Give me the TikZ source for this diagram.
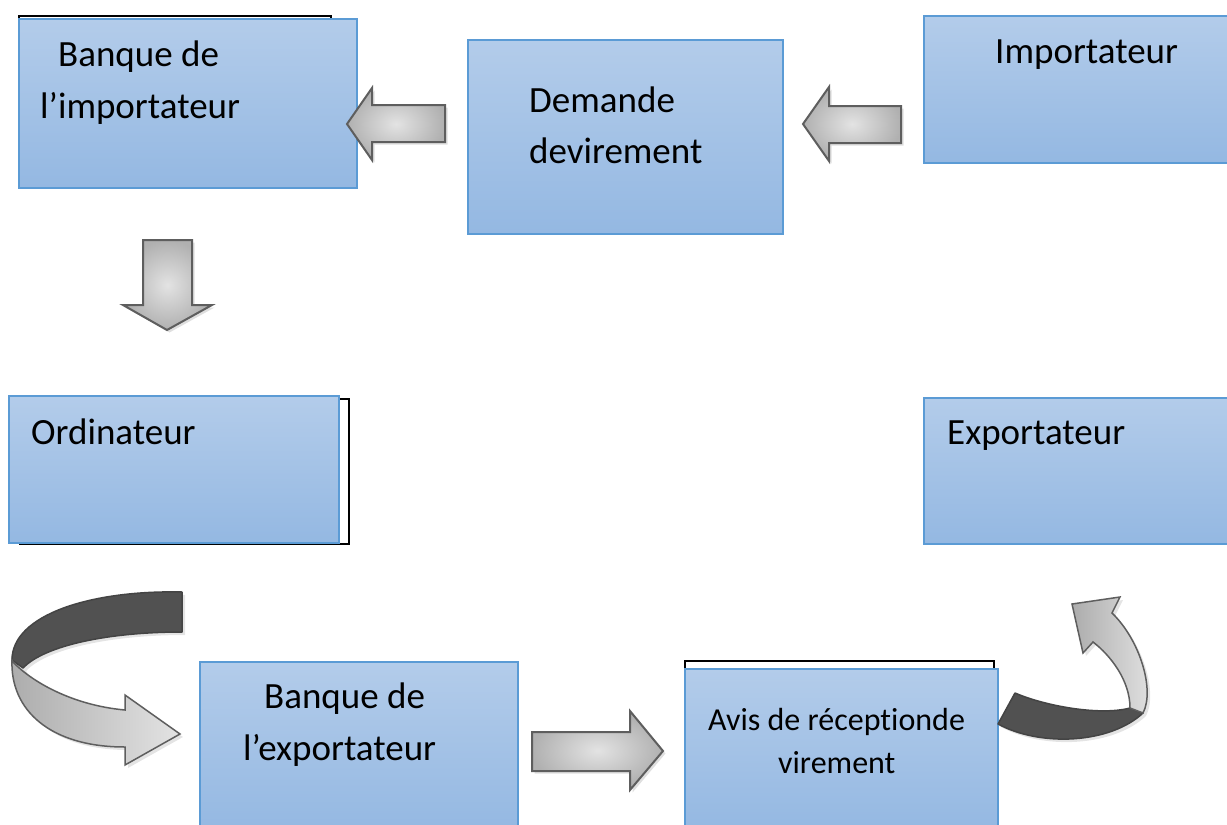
\documentclass[tikz,border=0pt]{standalone}
\usepackage{fontspec}
\setmainfont{Carlito}[Ligatures={NoCommon}]
\usetikzlibrary{shadows}

\definecolor{boxtop}{HTML}{B3CCEA}
\definecolor{boxbot}{HTML}{94B8E2}
\definecolor{boxedge}{HTML}{5B9BD5}
\definecolor{arredge}{HTML}{5E5E5E}
\definecolor{ribdark}{HTML}{515151}
\definecolor{ribedge}{HTML}{444444}

\tikzset{
  box/.style={rectangle, draw=boxedge, line width=1.5pt,
    top color=boxtop, bottom color=boxbot, anchor=north west,
    inner sep=0pt},
  frame/.style={rectangle, draw=black, line width=1.6pt, fill=white,
    anchor=north west, inner sep=0pt},
  big/.style={font=\fontsize{37}{44}\selectfont, anchor=base west, inner sep=0pt},
  small/.style={font=\fontsize{32}{38}\selectfont, anchor=base west, inner sep=0pt},
  blockarrow/.style={draw=arredge, line width=2pt, line join=miter,
    inner color=gray!22, outer color=gray!62,
    drop shadow={shadow xshift=2.5pt, shadow yshift=-2.5pt, fill=gray!35, opacity=0.7}},
  ribbonback/.style={fill=ribdark, draw=ribedge, line width=1.5pt, line join=round},
  ribbonfront/.style={draw=arredge, line width=1.5pt, line join=miter,
    left color=gray!65, right color=gray!22},
  ribshadow/.style={fill=gray!30, opacity=0.7},
}

\begin{document}
\begin{tikzpicture}[x=1pt, y=-1pt]
  \useasboundingbox (0,0) rectangle (1227,825);

  % frames sitting behind some of the boxes
  \node[frame, minimum width=312pt, minimum height=172pt] (f1) at (18,15) {};
  \node[frame, minimum width=329pt, minimum height=145pt] (f4) at (19,398) {};
  \node[frame, minimum width=309pt, minimum height=170pt] (f7) at (684,660) {};

  % boxes
  \node[box, minimum width=338pt, minimum height=169pt] (bimp) at (18,18) {};
  \node[box, minimum width=315pt, minimum height=194pt] (dem) at (467,39) {};
  \node[box, minimum width=310pt, minimum height=147pt] (imp) at (923,15) {};
  \node[box, minimum width=330pt, minimum height=147pt] (ord) at (8,395) {};
  \node[box, minimum width=310pt, minimum height=146pt] (exp) at (923,397) {};
  \node[box, minimum width=318pt, minimum height=170pt] (bexp) at (199,661) {};
  \node[box, minimum width=313pt, minimum height=163pt] (avis) at (684,668) {};

  % labels
  \node[big] (t1a) at (58,66) {Banque de};
  \node[big] (t1b) at (40,118) {l’importateur};
  \node[big] (t2a) at (529,112) {Demande};
  \node[big] (t2b) at (529,163) {devirement};
  \node[big] (t3) at (995,63) {Importateur};
  \node[big] (t4) at (31,444) {Ordinateur};
  \node[big] (t5) at (947,444) {Exportateur};
  \node[big] (t6a) at (264,708) {Banque de};
  \node[big] (t6b) at (243,760) {l’exportateur};
  \node[small] (t7a) at (708,730) {Avis de réceptionde};
  \node[small] (t7b) at (778,773) {virement};

  % straight block arrows
  \path[blockarrow] (445,105) -- (372,105) -- (372,88) -- (347,124)
    -- (372,160) -- (372,142) -- (445,142) -- cycle;
  \path[blockarrow] (901,106) -- (829,106) -- (829,87) -- (803,124)
    -- (829,161) -- (829,143) -- (901,143) -- cycle;
  \path[blockarrow] (143,240) -- (192,240) -- (192,305) -- (212,305)
    -- (167,330) -- (123,305) -- (143,305) -- cycle;
  \path[blockarrow] (532,732) -- (630,732) -- (630,711) -- (663,751)
    -- (630,790) -- (630,771) -- (532,771) -- cycle;

  % curved ribbon arrow on the left
  \begin{scope}[shift={(3,3)}]
    \path[ribshadow] (182,592) .. controls (90,590) and (12,615) .. (12,660)
      .. controls (10,710) and (50,747) .. (125,747) -- (125,765) -- (180,734)
      -- (125,695) -- (125,710) .. controls (70,705) and (30,680) .. (23,668)
      .. controls (45,645) and (110,632) .. (182,632) -- cycle;
  \end{scope}
  \path[ribbonback] (182,592) .. controls (90,590) and (12,615) .. (12,660)
    -- (23,668) .. controls (45,645) and (110,632) .. (182,632) -- cycle;
  \path[ribbonfront] (12,660) .. controls (10,710) and (50,747) .. (125,747)
    -- (125,765) -- (180,734) -- (125,695) -- (125,710)
    .. controls (70,705) and (30,680) .. (13,662) -- cycle;

  % curved ribbon arrow on the right
  \begin{scope}[shift={(3,3)}]
    \path[ribshadow] (1015,693) .. controls (1045,706) and (1100,716) .. (1130,708)
      .. controls (1130,680) and (1110,655) .. (1093,642) -- (1083,653)
      -- (1072,604) -- (1120,597) -- (1112,613)
      .. controls (1140,640) and (1155,690) .. (1143,713)
      .. controls (1110,744) and (1040,747) .. (998,724) -- cycle;
  \end{scope}
  \path[ribbonback] (1015,693) .. controls (1045,706) and (1100,716) .. (1130,708)
    -- (1143,713) .. controls (1110,744) and (1040,747) .. (998,724) -- cycle;
  \path[ribbonfront] (1130,708) .. controls (1130,680) and (1110,655) .. (1093,642)
    -- (1083,653) -- (1072,604) -- (1120,597) -- (1112,613)
    .. controls (1140,640) and (1155,690) .. (1143,713) -- cycle;
\end{tikzpicture}
\end{document}
